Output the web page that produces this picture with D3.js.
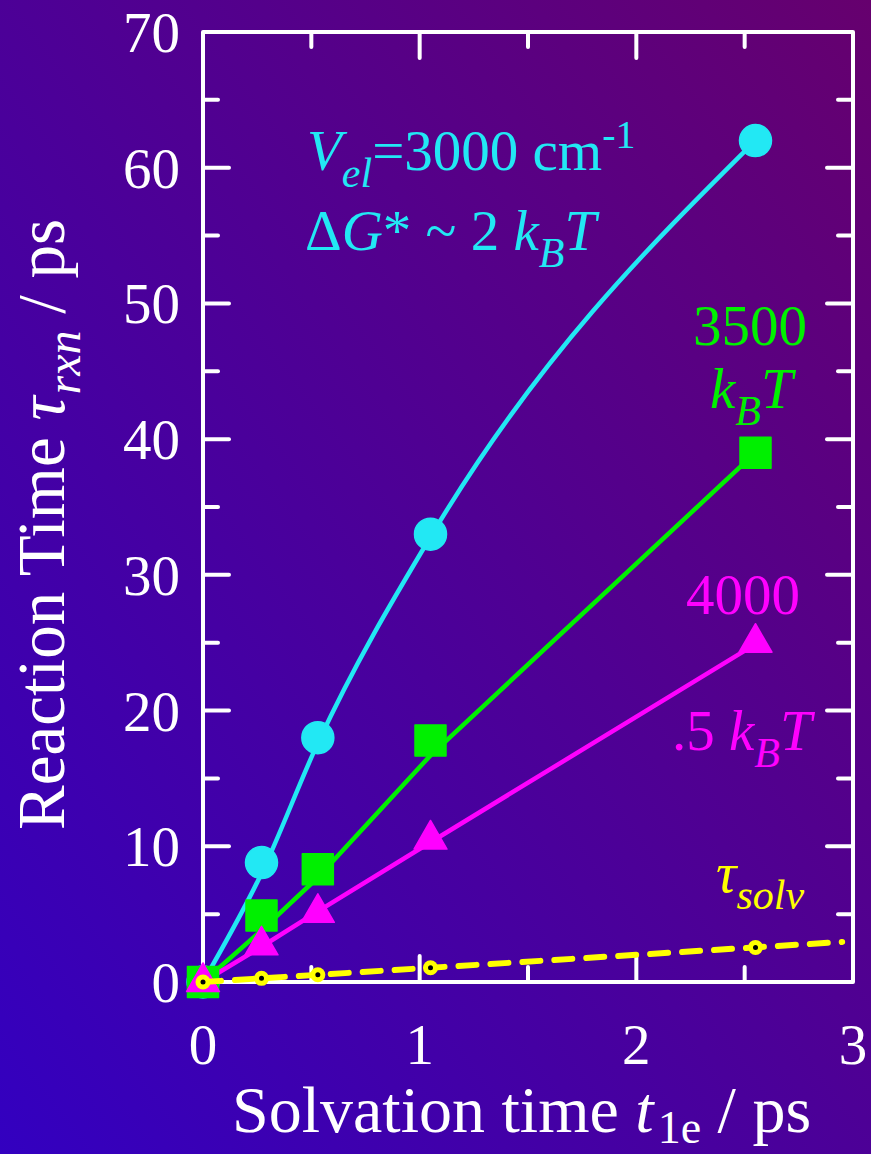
<!DOCTYPE html>
<html>
<head>
<meta charset="utf-8">
<script src="https://cdn.jsdelivr.net/npm/d3@7"></script>
<style>
  html, body { margin: 0; padding: 0; background: #4a0090; }
  svg { display: block; }
  text { font-family: "Liberation Serif", "Times New Roman", serif; }
</style>
</head>
<body>
<script>
// Solvation time t_1e (ps) for each simulated solvent
const tSolv = [0, 0.27, 0.53, 1.05, 2.55];

// Reaction times (ps) for three coupling strengths
const tauV3000 = [0, 8.8, 18.0, 33.0, 62.0];
const tauV3500 = [0, 4.9, 8.3, 17.8, 39.0];
const tauV4000 = [0, 2.7, 5.1, 10.5, 25.0];

// Guide curves through each series
const fitV3000 = [0, 8.0, 17.6, 32.8, 62.0];
const fitV3500 = [0, 3.8, 7.7, 16.7, 39.0];
const fitV4000 = [0, 2.6, 5.2, 10.3, 24.9];

// Reference line tau_solv = t_1e
const solvLineX = [0, 2.95];
const solvLineY = [0, 2.95];
const solvPoints = [0, 0.27, 0.53, 1.05, 2.55];

const xTicks = [0, 1, 2, 3];
const yTicks = [0, 10, 20, 30, 40, 50, 60, 70];

const W = 871, H = 1154;
const m = { left: 203, right: 853, top: 32, bottom: 982 };

const svg = d3.select("body").append("svg")
  .attr("width", W).attr("height", H);

// background gradient
const defs = svg.append("defs");
const grad = defs.append("linearGradient").attr("id", "bg")
  .attr("x1", 0).attr("y1", 1).attr("x2", 1).attr("y2", 0);
grad.append("stop").attr("offset", "0%").attr("stop-color", "#3300c0");
grad.append("stop").attr("offset", "100%").attr("stop-color", "#66006e");
svg.append("rect").attr("width", W).attr("height", H).attr("fill", "url(#bg)");

const x = d3.scaleLinear().domain([0, 3]).range([m.left, m.right]);
const y = d3.scaleLinear().domain([0, 70]).range([m.bottom, m.top]);

const white = "#ffffff";
const tickMajor = 26, tickMinor = 15;

// frame ticks on all four sides, pointing inward
const xAll = d3.range(0, 3.01, 0.5);
const yAll = d3.range(0, 70.01, 5);
const tg = svg.append("g").attr("stroke", white).attr("stroke-width", 4).attr("stroke-linecap", "round");
xAll.forEach(v => {
  const len = Math.abs(v - Math.round(v)) < 1e-6 ? tickMajor : tickMinor;
  if (v > 0 && v < 3) {
    tg.append("line").attr("x1", x(v)).attr("x2", x(v)).attr("y1", m.bottom).attr("y2", m.bottom - len);
    tg.append("line").attr("x1", x(v)).attr("x2", x(v)).attr("y1", m.top).attr("y2", m.top + len);
  }
});
yAll.forEach(v => {
  const len = Math.abs(v / 10 - Math.round(v / 10)) < 1e-6 ? tickMajor : tickMinor;
  if (v > 0 && v < 70) {
    tg.append("line").attr("y1", y(v)).attr("y2", y(v)).attr("x1", m.left).attr("x2", m.left + len);
    tg.append("line").attr("y1", y(v)).attr("y2", y(v)).attr("x1", m.right).attr("x2", m.right - len);
  }
});
svg.append("rect")
  .attr("x", m.left).attr("y", m.top)
  .attr("width", m.right - m.left).attr("height", m.bottom - m.top)
  .attr("fill", "none").attr("stroke", white).attr("stroke-width", 4)
  .attr("stroke-linejoin", "round");

// tick labels
svg.append("g").selectAll("text").data(xTicks).join("text")
  .attr("x", d => x(d)).attr("y", 1064)
  .attr("text-anchor", "middle").attr("fill", white).attr("font-size", 57)
  .text(d => d);
svg.append("g").selectAll("text").data(yTicks).join("text")
  .attr("x", 180).attr("y", d => y(d) + 20)
  .attr("text-anchor", "end").attr("fill", white).attr("font-size", 57)
  .text(d => d);

// axis titles
const xt = svg.append("text").attr("x", 232).attr("y", 1132)
  .attr("fill", white).attr("font-size", 66);
xt.append("tspan").text("Solvation time ");
xt.append("tspan").attr("font-style", "italic").text("t");
xt.append("tspan").attr("font-size", 46).attr("dy", 11).attr("dx", 4).text("1e");
xt.append("tspan").attr("dy", -11).text(" / ps");

const yt = svg.append("text")
  .attr("transform", "translate(64,830) rotate(-90)")
  .attr("fill", white).attr("font-size", 67);
yt.append("tspan").text("Reaction Time ");
yt.append("tspan").attr("font-style", "italic").text("τ");
yt.append("tspan").attr("font-style", "italic").attr("font-size", 48).attr("dy", 16).attr("dx", 2).text("rxn");
yt.append("tspan").attr("dy", -16).text(" / ps");

// series
const cyan = "#22e8f4", green = "#00f000", magenta = "#ff00ff", yellow = "#ffff00";
const series = [
  { xs: tSolv, ys: tauV3000, fit: fitV3000, color: cyan, shape: "circle", curve: d3.curveMonotoneX },
  { xs: tSolv, ys: tauV3500, fit: fitV3500, color: green, shape: "square", curve: d3.curveLinear },
  { xs: tSolv, ys: tauV4000, fit: fitV4000, color: magenta, shape: "triangle", curve: d3.curveLinear }
];

const symbolOf = {
  circle: d3.symbol().type(d3.symbolCircle).size(Math.PI * 16 * 16),
  square: d3.symbol().type(d3.symbolSquare).size(31 * 31),
  triangle: d3.symbol().type(d3.symbolTriangle).size(470)
};

series.forEach(s => {
  const pts = s.xs.map((v, i) => [v, s.fit[i]]);
  svg.append("path")
    .attr("d", d3.line().x(d => x(d[0])).y(d => y(d[1])).curve(s.curve)(pts))
    .attr("fill", "none").attr("stroke", s.color).attr("stroke-width", 4.5)
    .attr("stroke-linejoin", "round");
});
series.forEach(s => {
  svg.append("g").selectAll("path").data(s.xs.map((v, i) => [v, s.ys[i]])).join("path")
    .attr("transform", d => `translate(${x(d[0])},${y(d[1])})`)
    .attr("d", symbolOf[s.shape]())
    .attr("fill", s.color)
    .attr("stroke", s.color).attr("stroke-width", 1.5).attr("stroke-linejoin", "round");
});

// tau_solv reference line
svg.append("path")
  .attr("d", d3.line().x(d => x(d[0])).y(d => y(d[1]))(solvLineX.map((v, i) => [v, solvLineY[i]])))
  .attr("fill", "none").attr("stroke", yellow).attr("stroke-width", 6)
  .attr("stroke-dasharray", "18 14").attr("stroke-linecap", "round");
const yp = svg.append("g").selectAll("g").data(solvPoints).join("g")
  .attr("transform", d => `translate(${x(d)},${y(d)})`);
yp.append("circle").attr("r", 7.5).attr("fill", yellow);
yp.append("circle").attr("r", 2.5).attr("fill", "#000");

// annotations
function label(xp, ypos, color, parts) {
  const t = svg.append("text").attr("x", xp).attr("y", ypos).attr("fill", color).attr("font-size", 57);
  parts.forEach(p => {
    const sp = t.append("tspan").text(p.t);
    if (p.i) sp.attr("font-style", "italic");
    if (p.fs) sp.attr("font-size", p.fs);
    if (p.dy) sp.attr("dy", p.dy);
    if (p.dx) sp.attr("dx", p.dx);
  });
  return t;
}
label(307, 170, cyan, [
  { t: "V", i: true },
  { t: "el", i: true, fs: 42, dy: 17 },
  { t: "=3000 cm", dy: -17 },
  { t: "-1", fs: 40, dy: -22 }
]);
label(305, 250, cyan, [
  { t: "Δ" },
  { t: "G", i: true },
  { t: "* ~ 2 " },
  { t: "k", i: true },
  { t: "B", i: true, fs: 42, dy: 17 },
  { t: "T", i: true, dy: -17 }
]);
label(693, 345, green, [{ t: "3500" }]);
label(710, 408, green, [
  { t: "k", i: true },
  { t: "B", i: true, fs: 42, dy: 17 },
  { t: "T", i: true, dy: -17 }
]);
label(686, 614, magenta, [{ t: "4000" }]);
label(672, 750, magenta, [
  { t: ".5 " },
  { t: "k", i: true },
  { t: "B", i: true, fs: 42, dy: 17 },
  { t: "T", i: true, dy: -17 }
]);
label(716, 892, yellow, [
  { t: "τ", i: true },
  { t: "solv", i: true, fs: 42, dy: 17 }
]);
</script>
</body>
</html>
